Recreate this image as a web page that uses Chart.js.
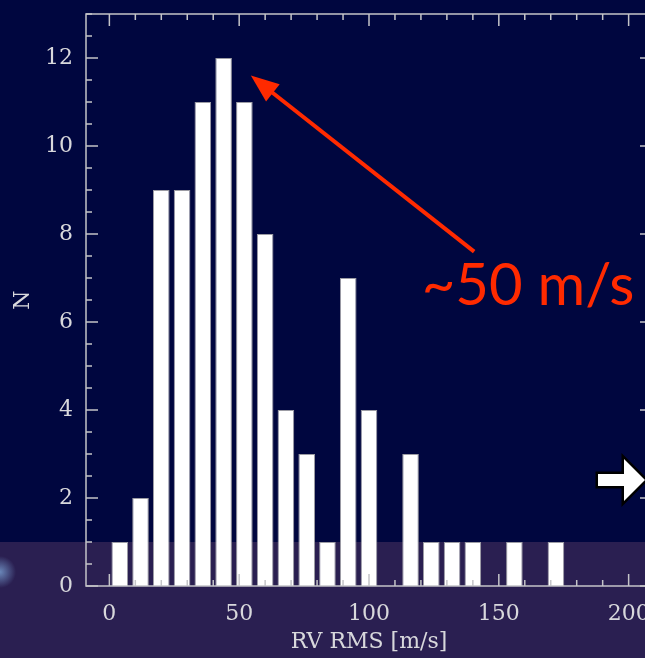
<!DOCTYPE html>
<html>
<head>
<meta charset="utf-8">
<script src="https://cdn.jsdelivr.net/npm/chart.js@4.4.0/dist/chart.umd.min.js"></script>
<style>
  html, body { margin: 0; padding: 0; overflow: hidden; background: #00063f; }
  #wrap { position: relative; width: 660px; height: 658px; }
</style>
</head>
<body>
<div id="wrap"><canvas id="chart"></canvas></div>
<script>
// histogram bins (8 m/s wide) and counts
var binCenters = [4, 12, 20, 28, 36, 44, 52, 60, 68, 76, 84, 92, 100, 108, 116, 124, 132, 140, 148, 156, 164, 172];
var counts     = [1, 2, 9, 9, 11, 12, 11, 8, 4, 3, 1, 7, 4, 0, 3, 1, 1, 1, 0, 1, 0, 1];
var xTickValues = [0, 50, 100, 150, 200];
var yTickValues = [0, 2, 4, 6, 8, 10, 12];
var xMin = -9, xMax = 209;
var yMin = 0, yMax = 13;

var labelFont = { family: 'DejaVu Serif', size: 22 };
var labelColor = '#d8d8dc';

// background: navy slide with the purple strip at the bottom
var slideBackground = {
    id: 'slideBackground',
    beforeDraw: function (chart) {
        var ctx = chart.ctx;
        ctx.save();
        ctx.fillStyle = '#00063f';
        ctx.fillRect(0, 0, chart.width, chart.height);
        ctx.fillStyle = '#2a1f51';
        ctx.fillRect(0, 542, chart.width, chart.height - 542);
        var g = ctx.createRadialGradient(0, 572, 0, 0, 572, 16);
        g.addColorStop(0, 'rgba(140,190,240,0.65)');
        g.addColorStop(1, 'rgba(140,190,240,0)');
        ctx.fillStyle = g;
        ctx.fillRect(0, 550, 20, 45);
        ctx.restore();
    }
};

// box round the plot with inward ticks on all four sides
var frameTicks = {
    id: 'frameTicks',
    afterDatasetsDraw: function (chart) {
        var ctx = chart.ctx, a = chart.chartArea;
        var xs = chart.scales.x, ys = chart.scales.y;
        ctx.save();
        ctx.strokeStyle = '#c4c4c8';
        ctx.lineWidth = 1.5;
        ctx.strokeRect(a.left, a.top, a.right - a.left, a.bottom - a.top);
        ctx.beginPath();
        for (var v = Math.ceil(xs.min / 10) * 10; v <= xs.max; v += 10) {
            var px = xs.getPixelForValue(v);
            var len = v % 50 === 0 ? 12 : 6;
            ctx.moveTo(px, a.bottom); ctx.lineTo(px, a.bottom - len);
            ctx.moveTo(px, a.top); ctx.lineTo(px, a.top + len);
        }
        for (var w = ys.min; w <= ys.max; w += 0.5) {
            var py = ys.getPixelForValue(w);
            var l2 = w % 2 === 0 ? 12 : 6;
            ctx.moveTo(a.left, py); ctx.lineTo(a.left + l2, py);
            ctx.moveTo(a.right, py); ctx.lineTo(a.right - l2, py);
        }
        ctx.stroke();
        ctx.restore();
    }
};

// red "~50 m/s" callout and the white slide arrow
var callout = {
    id: 'callout',
    afterDraw: function (chart) {
        var ctx = chart.ctx;
        var xs = chart.scales.x, ys = chart.scales.y;
        var tipX = xs.getPixelForValue(54.5), tipY = ys.getPixelForValue(11.6);
        var tailX = xs.getPixelForValue(140.5), tailY = ys.getPixelForValue(7.6);
        var red = '#ff2a00';
        ctx.save();
        var ang = Math.atan2(tipY - tailY, tipX - tailX);
        var headLen = 28, headW = 11;
        var baseX = tipX - headLen * Math.cos(ang), baseY = tipY - headLen * Math.sin(ang);
        ctx.strokeStyle = red;
        ctx.lineWidth = 4;
        ctx.beginPath();
        ctx.moveTo(tailX, tailY);
        ctx.lineTo(baseX + 4 * Math.cos(ang), baseY + 4 * Math.sin(ang));
        ctx.stroke();
        ctx.fillStyle = red;
        ctx.beginPath();
        ctx.moveTo(tipX, tipY);
        ctx.lineTo(baseX + headW * Math.sin(ang), baseY - headW * Math.cos(ang));
        ctx.lineTo(baseX - headW * Math.sin(ang), baseY + headW * Math.cos(ang));
        ctx.closePath();
        ctx.fill();

        ctx.font = '58px Lato';
        ctx.textBaseline = 'alphabetic';
        ctx.textAlign = 'left';
        ctx.fillText('~50 m/s', xs.getPixelForValue(120.3), ys.getPixelForValue(6.39));

        // white block arrow with black outline
        ctx.beginPath();
        ctx.moveTo(598, 474);
        ctx.lineTo(624, 474);
        ctx.lineTo(624, 459);
        ctx.lineTo(645, 480);
        ctx.lineTo(624, 501);
        ctx.lineTo(624, 486);
        ctx.lineTo(598, 486);
        ctx.closePath();
        ctx.lineWidth = 5;
        ctx.lineJoin = 'miter';
        ctx.strokeStyle = '#000000';
        ctx.stroke();
        ctx.fillStyle = '#ffffff';
        ctx.fill();
        ctx.restore();
    }
};

var points = binCenters.map(function (c, i) { return { x: c, y: counts[i] }; });

new Chart(document.getElementById('chart'), {
    type: 'bar',
    data: {
        datasets: [{
            data: points,
            backgroundColor: '#ffffff',
            borderColor: '#9c9ca4',
            borderWidth: 1,
            barPercentage: 0.8,
            categoryPercentage: 1.0
        }]
    },
    options: {
        responsive: true,
        maintainAspectRatio: false,
        animation: false,
        layout: { padding: { top: 14, right: 8, left: 0, bottom: 0 } },
        plugins: { legend: { display: false }, tooltip: { enabled: false } },
        scales: {
            x: {
                type: 'linear',
                min: xMin,
                max: xMax,
                offset: false,
                afterBuildTicks: function (axis) {
                    axis.ticks = xTickValues.map(function (v) { return { value: v }; });
                },
                afterFit: function (s) {
                    s.height = 72;
                    s.paddingLeft = 0; s.paddingRight = 0;
                },
                grid: { display: false, drawTicks: false, tickLength: 0 },
                border: { display: false },
                ticks: { color: labelColor, font: labelFont, padding: 15, maxRotation: 0, autoSkip: false },
                title: { display: true, text: 'RV RMS [m/s]', color: labelColor, font: labelFont, padding: { top: 0, bottom: 3 } }
            },
            y: {
                min: yMin,
                max: yMax,
                afterBuildTicks: function (axis) {
                    axis.ticks = yTickValues.map(function (v) { return { value: v }; });
                },
                afterFit: function (s) {
                    s.width = 86;
                    s.paddingTop = 0; s.paddingBottom = 0;
                },
                grid: { display: false, drawTicks: false, tickLength: 0 },
                border: { display: false },
                ticks: { color: labelColor, font: labelFont, padding: 13 },
                title: { display: true, text: 'N', color: labelColor, font: labelFont, padding: { top: 10, bottom: 0 } }
            }
        }
    },
    plugins: [slideBackground, frameTicks, callout]
});
</script>
</body>
</html>
